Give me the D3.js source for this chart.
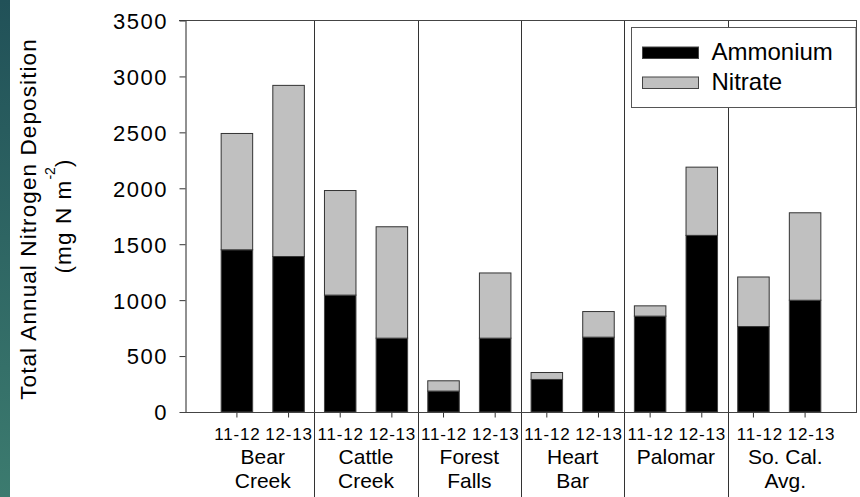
<!DOCTYPE html>
<html>
<head>
<meta charset="utf-8">
<script src="https://cdn.jsdelivr.net/npm/d3@7"></script>
<style>
  html, body { margin: 0; padding: 0; background: #fff; }
  svg { display: block; }
  text { font-family: "Liberation Sans", Arial, sans-serif; fill: #000; }
</style>
</head>
<body>
<script>
// ---- data ----
const sites = ["Bear Creek", "Cattle Creek", "Forest Falls", "Heart Bar", "Palomar", "So. Cal. Avg."];
const siteLabelLines = [["Bear", "Creek"], ["Cattle", "Creek"], ["Forest", "Falls"], ["Heart", "Bar"], ["Palomar"], ["So. Cal.", "Avg."]];
const years = ["11-12", "12-13"];
const ammonium = [1450, 1390, 1045, 660, 187, 660, 291, 669, 857, 1579, 764, 999];
const nitrate  = [1040, 1530, 935, 996, 92, 583, 62, 229, 92, 610, 443, 782];
const yTicks = [0, 500, 1000, 1500, 2000, 2500, 3000, 3500];
const seriesNames = ["Ammonium", "Nitrate"];
const seriesColors = ["#000000", "#c0c0c0"];

// ---- build ----
(function () {
const W = 860, H = 497;
const FONT = '"Liberation Sans", Arial, sans-serif';
const keys = [];
sites.forEach(s => years.forEach(yr => keys.push(s + "|" + yr)));
const rows = keys.map((k, i) => ({ key: k, site: k.split("|")[0], year: k.split("|")[1], amm: ammonium[i], nit: nitrate[i] }));

const svg = d3.select("body").append("svg").attr("width", W).attr("height", H);

// teal strip on the left
const defs = svg.append("defs");
const grad = defs.append("linearGradient").attr("id", "teal").attr("x1", 0).attr("y1", 0).attr("x2", 0).attr("y2", 1);
grad.append("stop").attr("offset", "0%").attr("stop-color", "#215158");
grad.append("stop").attr("offset", "100%").attr("stop-color", "#3c7b6f");
svg.append("rect").attr("x", 0).attr("y", 0).attr("width", 10).attr("height", H).attr("fill", "url(#teal)");

const pL = 185, pR = 857, pT = 20.5, pB = 412;
const x = d3.scaleBand().domain(keys).range([pL, pR]).paddingInner(0.39).paddingOuter(0.7);
const y = d3.scaleLinear().domain([0, 3500]).range([pB, pT]);
const bw = x.bandwidth();
const step = x.step();

// group separators
const sepXs = sites.slice(1).map(s => x(s + "|" + years[0]) - step * x.paddingInner() / 2);
svg.append("g").selectAll("line").data(sepXs).join("line")
  .attr("x1", d => Math.round(d) + 0.5).attr("x2", d => Math.round(d) + 0.5)
  .attr("y1", pT).attr("y2", H)
  .attr("stroke", "#333").attr("stroke-width", 1);

// frame top / right
svg.append("line").attr("x1", pL - 6).attr("x2", pR).attr("y1", pT).attr("y2", pT).attr("stroke", "#444");
svg.append("line").attr("x1", pR - 0.5).attr("x2", pR - 0.5).attr("y1", pT).attr("y2", pB).attr("stroke", "#444");

// bars
const barG = svg.append("g");
barG.selectAll("rect.amm").data(rows).join("rect").attr("class", "amm")
  .attr("x", d => x(d.key)).attr("width", bw)
  .attr("y", d => y(d.amm)).attr("height", d => y(0) - y(d.amm))
  .attr("fill", seriesColors[0]).attr("stroke", "#444").attr("stroke-width", 1);
barG.selectAll("rect.nit").data(rows).join("rect").attr("class", "nit")
  .attr("x", d => x(d.key)).attr("width", bw)
  .attr("y", d => y(d.amm + d.nit)).attr("height", d => y(d.amm) - y(d.amm + d.nit))
  .attr("fill", seriesColors[1]).attr("stroke", "#333").attr("stroke-width", 1);

// y axis
const yAxis = svg.append("g").attr("transform", `translate(${pL + 0.5},0)`)
  .call(d3.axisLeft(y).tickValues(yTicks).tickFormat(d3.format("d")).tickSize(6).tickSizeOuter(0).tickPadding(13));
yAxis.attr("font-family", FONT);
yAxis.select(".domain").attr("stroke", "#222");
yAxis.selectAll(".tick line").attr("stroke", "#333");
yAxis.selectAll(".tick text").style("font-family", FONT)
  .style("font-size", "22px").style("letter-spacing", "1.5px").attr("dy", "0.36em").attr("dx", 1.5);

// x axis
const lastSite = sites[sites.length - 1];
const xAxis = svg.append("g").attr("transform", `translate(0,${pB + 0.5})`)
  .call(d3.axisBottom(x).tickSize(5).tickSizeOuter(0).tickFormat(k => k.split("|")[1]));
xAxis.attr("font-family", FONT);
xAxis.select(".domain").attr("stroke", "#444").attr("d", `M${pL - 5},0H${pR}`);
xAxis.selectAll(".tick line").attr("stroke", "#333");
xAxis.selectAll(".tick text").style("font-family", FONT)
  .style("font-size", "17px").style("letter-spacing", "0.8px")
  .attr("y", 27.5).attr("dy", 0)
  .attr("dx", k => (k.split("|")[0] === lastSite ? 6.5 : 0.5));

// site labels
const siteG = svg.append("g");
sites.forEach((s, i) => {
  const cx = (x(s + "|" + years[0]) + x(s + "|" + years[1])) / 2 + bw / 2 + (s === lastSite ? 6 : 0);
  siteLabelLines[i].forEach((ln, j) => {
    siteG.append("text").attr("x", cx).attr("y", 463.5 + j * 24)
      .attr("text-anchor", "middle").style("font-size", "21px").text(ln);
  });
});

// y title
svg.append("text").attr("transform", "translate(36,219) rotate(-90)")
  .attr("text-anchor", "middle").style("font-size", "22.5px").style("letter-spacing", "1.1px")
  .text("Total Annual Nitrogen Deposition");
const t2 = svg.append("text").attr("transform", "translate(71,216) rotate(-90)")
  .attr("text-anchor", "middle").style("font-size", "22.5px").style("letter-spacing", "1.1px");
t2.append("tspan").text("(mg N m");
t2.append("tspan").attr("dy", -16).style("font-size", "14px").style("letter-spacing", "0px").text("-2");
t2.append("tspan").attr("dy", 16).text(")");

// legend
const lg = svg.append("g");
lg.append("rect").attr("x", 631.5).attr("y", 27.5).attr("width", 224.5).attr("height", 80)
  .attr("fill", "#fff").attr("stroke", "#555");
seriesNames.forEach((n, i) => {
  lg.append("rect").attr("x", 642.5).attr("y", 47 + i * 30).attr("width", 56).attr("height", 11.5)
    .attr("fill", seriesColors[i]).attr("stroke", "#444");
  lg.append("text").attr("x", 711.5).attr("y", 60 + i * 29.5).style("font-size", "24px").text(n);
});
})();
</script>
</body>
</html>
